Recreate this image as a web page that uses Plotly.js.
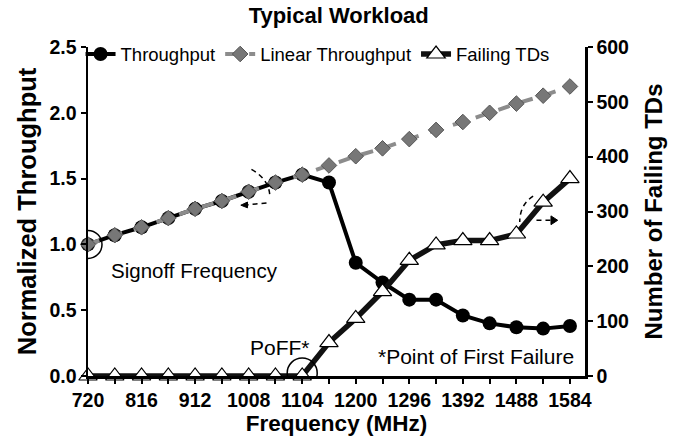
<!DOCTYPE html>
<html>
<head>
<meta charset="utf-8">
<script src="https://cdn.plot.ly/plotly-3.0.1.min.js"></script>
<style>html,body{margin:0;padding:0;background:#fff}#chart{width:687px;height:445px}</style>
</head>
<body>
<div id="chart"></div>
<script>
// Data
const frequencies = [720, 768, 816, 864, 912, 960, 1008, 1056, 1104, 1152, 1200, 1248, 1296, 1344, 1392, 1440, 1488, 1536, 1584];
const throughput = [1.00, 1.07, 1.13, 1.20, 1.27, 1.33, 1.40, 1.47, 1.53, 1.47, 0.86, 0.71, 0.58, 0.58, 0.46, 0.40, 0.37, 0.36, 0.38];
const linearThroughput = [1.00, 1.07, 1.13, 1.20, 1.27, 1.33, 1.40, 1.47, 1.53, 1.60, 1.67, 1.73, 1.80, 1.87, 1.93, 2.00, 2.07, 2.13, 2.20];
const failingTDs = [0, 0, 0, 0, 0, 0, 0, 0, 0, 61, 105, 154, 211, 239, 247, 247, 259, 317, 360];
const xTickLabels = ['720', '816', '912', '1008', '1104', '1200', '1296', '1392', '1488', '1584'];

const FONT = 'Liberation Sans, Arial, sans-serif';

const traces = [
  {
    x: frequencies, y: throughput, name: 'Throughput', type: 'scatter', mode: 'lines+markers',
    line: {color: '#000', width: 4},
    marker: {symbol: 'circle', size: 14, color: '#000'},
    cliponaxis: false
  },
  {
    x: frequencies, y: linearThroughput, name: 'Linear Throughput', type: 'scatter', mode: 'lines+markers',
    line: {color: '#8c8c8c', width: 4, dash: 'dash'},
    marker: {symbol: 'diamond', size: 12, color: '#777', line: {color: '#555', width: 1}},
    cliponaxis: false
  },
  {
    x: frequencies, y: failingTDs, name: 'Failing TDs', type: 'scatter', mode: 'lines+markers', yaxis: 'y2',
    line: {color: '#111', width: 5.5},
    marker: {symbol: 'triangle-up', size: 16, color: '#fff', line: {color: '#000', width: 1.2}},
    cliponaxis: false
  }
];

const layout = {
  width: 687, height: 445,
  margin: {l: 88, r: 102, t: 47, b: 69},
  paper_bgcolor: '#fff', plot_bgcolor: '#fff',
  font: {family: FONT, color: '#000'},
  showlegend: true,
  legend: {orientation: 'h', x: -0.015, xanchor: 'left', y: 1.035, yanchor: 'top',
           font: {size: 18.5, family: FONT}, bgcolor: 'rgba(0,0,0,0)', itemwidth: 30, tracegroupgap: 0},
  title: {text: '<b>Typical Workload</b>', x: 0.493, xanchor: 'center', y: 0.965, yanchor: 'middle',
          font: {size: 22, family: FONT}},
  xaxis: {
    range: [720, 1611], tickmode: 'array', tickvals: xTickLabels.map(Number), ticktext: xTickLabels,
    ticks: 'outside', ticklen: 5, tickwidth: 2, tickcolor: '#000',
    minor: {tickmode: 'array', tickvals: frequencies, ticks: 'outside', ticklen: 5, tickwidth: 2, tickcolor: '#000'},
    showline: true, linewidth: 2.5, linecolor: '#000', showgrid: false, zeroline: false,
    tickfont: {size: 19.5, family: FONT, weight: 'bold'},
    title: {text: '<b>Frequency (MHz)</b>', font: {size: 22.5, family: FONT}, standoff: 6}
  },
  yaxis: {
    range: [0, 2.5], dtick: 0.5, tickformat: '.1f',
    ticks: 'outside', ticklen: 5, tickwidth: 2, tickcolor: '#000',
    showline: true, linewidth: 2.5, linecolor: '#000', showgrid: false, zeroline: false,
    tickfont: {size: 19.5, family: FONT, weight: 'bold'},
    title: {text: '<b>Normalized Throughput</b>', font: {size: 25.5, family: FONT}, standoff: 6}
  },
  yaxis2: {
    range: [0, 600], dtick: 100, overlaying: 'y', side: 'right',
    ticks: 'outside', ticklen: 5, tickwidth: 2, tickcolor: '#000',
    showline: true, linewidth: 2.5, linecolor: '#000', showgrid: false, zeroline: false,
    tickfont: {size: 19.5, family: FONT, weight: 'bold'},
    title: {text: '<b>Number of Failing TDs</b>', font: {size: 24, family: FONT}, standoff: 17}
  },
  shapes: [
    {type: 'circle', xref: 'x', yref: 'y', xsizemode: 'pixel', ysizemode: 'pixel',
     xanchor: 720, yanchor: 1.0, x0: -14, x1: 14, y0: -14, y1: 14, line: {color: '#000', width: 1.5}},
    {type: 'circle', xref: 'x', yref: 'y', xsizemode: 'pixel', ysizemode: 'pixel',
     xanchor: 1104, yanchor: 0, x0: -15, x1: 15, y0: -12, y1: 18, line: {color: '#000', width: 1.5}},
    {type: 'path', xref: 'x', yref: 'y', path: 'M 1013,1.57 Q 1046,1.49 1046,1.36',
     line: {color: '#000', width: 1.5, dash: '5px,4px'}},
    {type: 'line', xref: 'x', yref: 'y', x0: 1040, y0: 1.315, x1: 1003, y1: 1.30,
     line: {color: '#000', width: 1.5, dash: '5px,4px'}},
    {type: 'path', xref: 'x', yref: 'y', path: 'M 994,1.298 L 1006,1.322 L 1006,1.278 Z',
     fillcolor: '#000', line: {color: '#000', width: 1}},
    {type: 'path', xref: 'x', yref: 'y2', path: 'M 1518,328 Q 1494,312 1494,281',
     line: {color: '#000', width: 1.5, dash: '5px,4px'}},
    {type: 'line', xref: 'x', yref: 'y2', x0: 1524, y0: 284, x1: 1552, y1: 284,
     line: {color: '#000', width: 1.5, dash: '5px,4px'}},
    {type: 'path', xref: 'x', yref: 'y2', path: 'M 1562,284 L 1550,292 L 1550,276 Z',
     fillcolor: '#000', line: {color: '#000', width: 1}}
  ],
  annotations: [
    {text: 'Signoff Frequency', xref: 'x', yref: 'y', x: 757, y: 0.80, xanchor: 'left', yanchor: 'middle',
     showarrow: false, font: {size: 20.5, family: FONT}},
    {text: 'PoFF*', xref: 'x', yref: 'y', x: 1122, y: 0.22, xanchor: 'right', yanchor: 'middle',
     showarrow: false, font: {size: 21, family: FONT}},
    {text: '*Point of First Failure', xref: 'x', yref: 'y', x: 1594, y: 0.145, xanchor: 'right', yanchor: 'middle',
     showarrow: false, font: {size: 21, family: FONT}}
  ]
};

Plotly.newPlot('chart', traces, layout, {displayModeBar: false, staticPlot: true});
</script>
</body>
</html>
